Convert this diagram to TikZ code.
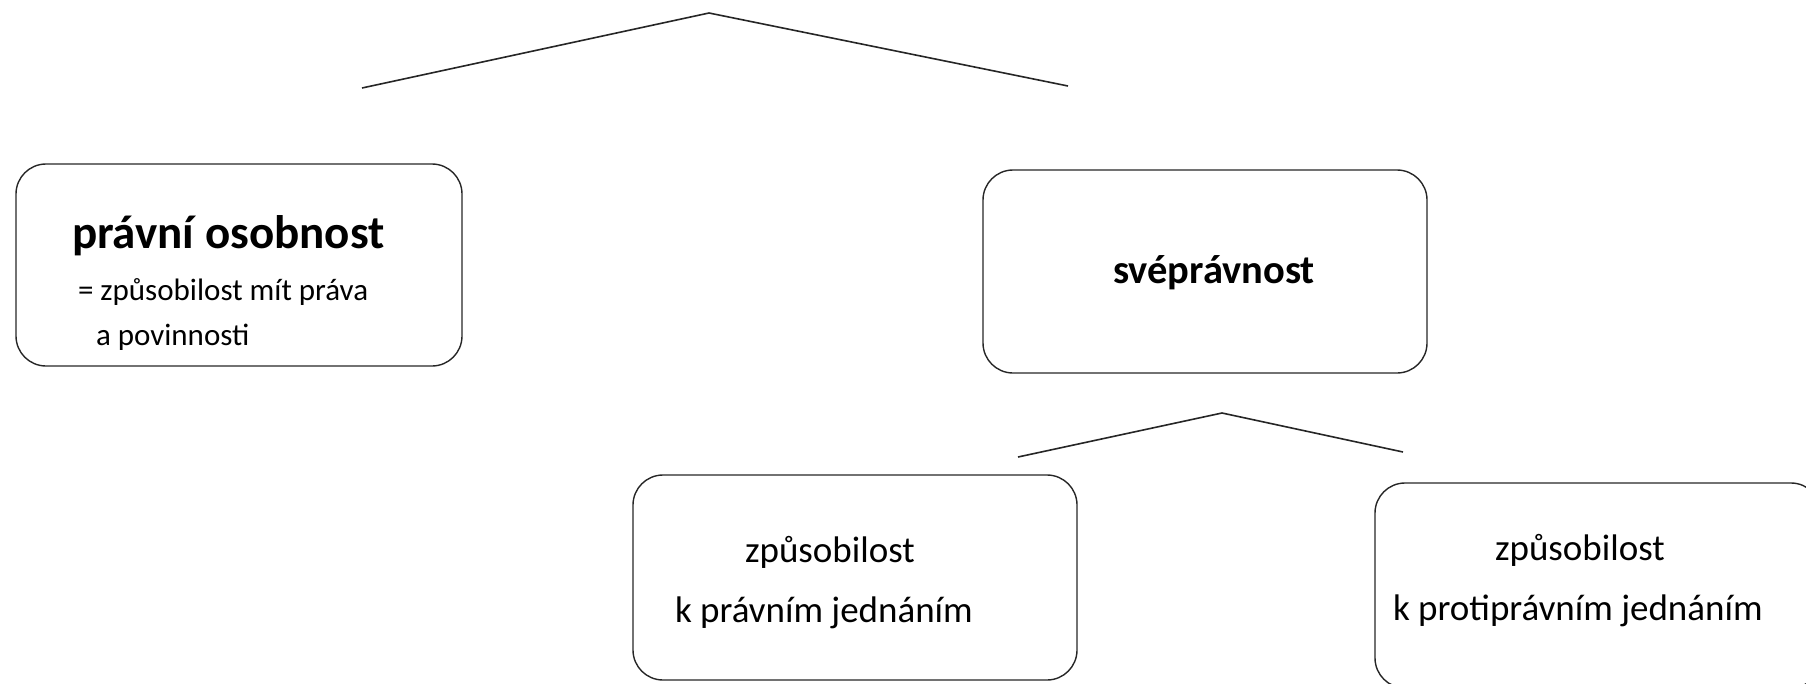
\documentclass[tikz,border=0pt]{standalone}
\usepackage{fontspec}
\setmainfont{Carlito}
\begin{document}
\begin{tikzpicture}[x=1pt,y=-1pt,
  box/.style={draw=black!85,line width=1.4pt,rounded corners=30pt},
  conn/.style={draw=black!85,line width=1.6pt},
  lbl/.style={anchor=base west,inner sep=0pt,outer sep=0pt,text=black},
  titlefont/.style={font=\fontsize{47}{56}\selectfont\bfseries},
  subfont/.style={font=\fontsize{31}{37}\selectfont},
  midfont/.style={font=\fontsize{40.5}{48}\selectfont\bfseries},
  bodyfont/.style={font=\fontsize{37}{44}\selectfont}]
\useasboundingbox (0,0) rectangle (1806,683);
\begin{scope}
\clip (0,0) rectangle (1806,683);
% boxes
\draw[box] (16,164) rectangle (462,366);
\node[inner sep=0pt] (po) at (239,265) {};
\draw[box] (983,170) rectangle (1427,373);
\node[inner sep=0pt] (sp) at (1205,271) {};
\draw[box] (633,475) rectangle (1077,680);
\node[inner sep=0pt] (kpj) at (855,577) {};
\draw[box] (1375,483) rectangle (1821,688);
\node[inner sep=0pt] (kppj) at (1598,585) {};
% texts
\node[lbl,titlefont] (t1) at (72,248) {právní osobnost};
\node[lbl,subfont] (t2) at (78,300) {= způsobilost mít práva};
\node[lbl,subfont] (t3) at (96,345) {a povinnosti};
\node[lbl,midfont] (t4) at (1113,283) {svéprávnost};
\node[lbl,bodyfont] (t5) at (745,562) {způsobilost};
\node[lbl,bodyfont] (t6) at (675,622) {k právním jednáním};
\node[lbl,bodyfont] (t7) at (1495,560) {způsobilost};
\node[lbl,bodyfont] (t8) at (1393,620) {k protiprávním jednáním};
% connectors
\coordinate (a1) at (709,13);
\coordinate (l1) at (362,88);
\coordinate (r1) at (1068,86);
\draw[conn] (l1) -- (a1) -- (r1);
\coordinate (a2) at (1222,413);
\coordinate (l2) at (1018,457);
\coordinate (r2) at (1403,452);
\draw[conn] (l2) -- (a2) -- (r2);
\end{scope}
\end{tikzpicture}
\end{document}
